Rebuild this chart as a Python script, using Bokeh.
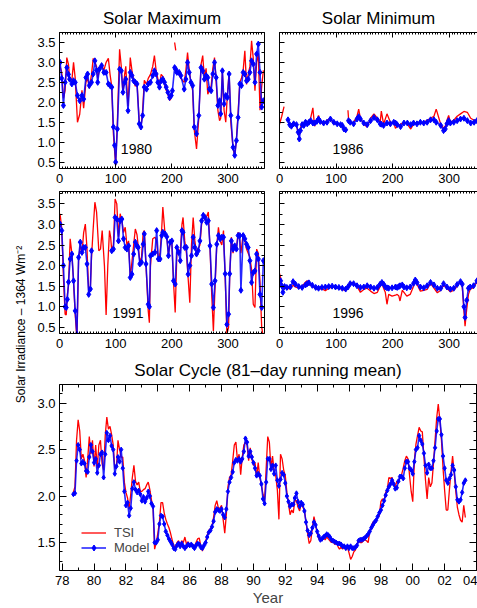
import math
import numpy as np
from bokeh.plotting import figure
from bokeh.layouts import column, row
from bokeh.models import (LinearAxis, FixedTicker, Range1d, Label, Legend,
                          LegendItem, NumeralTickFormatter)
from bokeh.embed import file_html
from bokeh.resources import INLINE

nan = float("nan")

# ---------------- data ----------------
days_1980 = [1,4,7,10,13,16,18,22,25,28,32,36,40,43,47,50,53,57,60,63,66,68,71,75,79,83,87,90,93,96,
             98,100,103,107,110,113,116,118,122,126,129,132,135,138,142,145,148,151,155,158,162,166,169,172,
             175,178,181,184,187,190,193,196,199,201,205,207,209,213,216,222,225,228,231,234,237,240,244,248,
             252,255,258,261,264,267,270,273,276,279,282,285,287,290,293,296,299,302,305,309,312,315,318,321,
             324,327,330,333,336,339,342,345,348,351,354,357,360,363]
model_1980 = [3.0,2.6,1.92,2.5,2.87,2.7,2.58,2.46,2.54,2.5,2.17,2.04,2.17,2.08,2.62,2.71,2.42,2.5,2.71,3.04,
              2.8,2.5,2.83,2.92,2.75,2.75,2.46,2.42,2.38,1.38,0.92,0.5,1.33,2.83,2.79,2.25,2.5,2.58,1.79,2.75,
              2.67,2.54,2.5,2.46,1.46,1.38,1.67,2.38,2.33,2.46,2.5,2.67,2.79,2.71,2.5,2.38,2.54,2.58,2.5,2.38,
              2.25,2.12,2.17,2.29,2.87,2.83,2.75,2.75,2.67,2.33,2.58,3.0,2.75,2.5,2.42,1.38,1.21,1.67,2.87,2.79,
              2.58,2.67,2.62,2.33,2.29,2.71,3.0,2.62,1.92,2.04,1.71,2.79,1.96,2.17,2.12,2.71,1.67,0.87,0.67,1.04,
              1.62,2.46,2.42,2.75,2.71,2.54,2.58,2.75,3.04,2.96,2.5,3.21,3.46,2.75,1.88,2.04]
tsi_1980 = [2.9,2.75,2.1,2.3,3.12,2.95,2.6,2.55,3.0,2.6,1.5,1.7,2.3,1.85,2.5,2.6,2.35,2.7,3.1,3.0,
            2.9,2.6,2.8,2.95,2.8,3.0,3.1,2.7,2.4,1.2,0.8,0.42,1.5,3.33,2.9,2.2,2.7,2.9,1.9,3.12,
            2.8,2.55,2.4,2.5,1.5,1.35,1.8,2.55,2.45,2.6,2.7,2.9,3.17,2.8,2.6,2.4,2.7,2.65,2.45,2.3,
            2.2,2.05,2.1,nan,3.5,3.3,nan,2.7,2.6,2.5,2.8,3.25,2.8,2.5,2.3,1.3,0.83,1.6,2.95,3.17,
            2.6,2.85,2.2,2.3,2.4,2.85,3.12,2.5,1.8,1.54,1.6,2.75,1.8,1.5,2.2,2.75,1.5,0.85,0.65,1.08,
            1.75,2.5,2.6,2.8,3.29,2.45,2.7,2.9,3.54,3.1,2.29,3.0,3.2,1.8,2.4,2.8]

days_1986 = [0,4,8,10,15,18,21,25,30,33,35,37,40,43,46,49,52,55,59,62,66,69,72,78,84,90,96,102,108,111,
             114,117,119,121,122,125,131,137,140,143,149,155,161,167,173,178,180,184,190,196,202,205,208,214,
             220,226,232,237,243,249,255,261,267,273,277,285,290,293,296,299,302,308,314,320,326,332,338,344,349]
model_1986 = [nan,nan,nan,nan,1.56,1.44,1.4,1.46,1.44,1.25,1.08,1.29,1.44,1.42,1.5,1.46,1.5,1.54,1.48,1.48,
              1.52,1.58,1.52,1.48,1.5,1.58,1.5,1.46,1.44,1.42,1.33,1.31,nan,nan,1.54,1.5,1.46,1.58,1.64,1.58,
              1.48,1.44,1.54,1.62,1.56,1.46,1.45,1.42,1.48,1.46,1.5,1.48,1.44,1.39,1.48,1.48,1.44,1.48,1.46,1.5,
              1.48,1.5,1.56,1.56,1.5,1.42,1.29,1.33,1.46,1.54,1.48,1.5,1.54,1.58,1.6,1.54,1.48,1.5,1.54]
tsi_1986 = [1.45,1.65,1.89,nan,nan,1.42,1.45,1.5,1.45,1.2,1.17,1.35,1.5,1.4,1.55,1.5,1.45,1.6,1.86,1.4,
            1.55,1.67,1.5,1.45,1.55,1.6,1.45,1.48,1.42,1.4,1.38,nan,nan,1.8,1.6,1.48,1.5,1.65,1.83,1.6,
            1.45,1.38,1.6,1.71,1.6,1.5,1.78,1.45,1.71,1.5,1.48,1.35,1.4,1.45,1.5,1.45,1.33,1.45,1.5,1.48,
            1.5,1.55,1.6,1.65,1.83,1.45,1.35,1.4,1.55,1.67,1.5,1.55,1.65,1.71,1.77,1.75,1.6,1.55,1.55]

days_1991 = [1,4,7,10,12,14,16,19,22,25,28,31,34,37,40,43,46,49,52,55,57,60,63,66,70,73,76,80,83,86,
             89,91,93,96,99,102,105,108,111,114,117,120,123,126,129,132,135,138,140,143,146,149,151,154,158,160,
             162,166,170,173,176,179,182,184,188,191,194,197,200,203,206,209,212,215,218,220,223,226,229,232,
             235,238,241,244,247,250,253,256,259,262,265,268,271,274,277,280,283,286,289,292,295,298,301,303,
             306,309,312,315,318,321,323,327,330,333,336,339,342,345,348,351,354,357,360,363]
model_1991 = [3.01,2.85,2.0,1.0,0.98,1.18,1.6,2.16,2.28,1.63,0.9,0.33,2.2,2.57,2.32,2.44,2.44,2.04,1.3,1.43,
              2.36,nan,nan,nan,nan,nan,nan,nan,nan,nan,nan,nan,2.36,2.4,3.17,3.13,2.6,3.09,3.13,2.65,
              2.44,2.4,2.48,1.71,1.79,2.28,2.57,2.48,2.44,2.04,2.08,2.52,2.77,2.04,1.06,1.0,2.24,2.28,2.32,2.85,
              2.16,2.16,2.73,2.81,2.77,2.7,2.24,2.57,2.6,1.63,1.55,2.44,2.32,2.12,2.85,2.81,2.44,2.44,1.79,2.0,
              2.24,2.69,2.44,2.28,2.36,2.6,3.09,3.22,3.17,3.05,3.09,2.48,1.55,0.98,1.63,2.52,2.73,2.65,2.69,2.69,
              1.8,0.57,0.82,1.8,2.6,2.4,2.48,2.4,2.73,2.73,1.4,2.73,2.65,2.52,2.44,2.12,1.59,1.83,1.87,2.28,
              2.16,1.3,0.98,2.12]
tsi_1991 = [3.26,2.9,1.7,0.82,0.8,1.3,1.5,2.65,2.3,1.6,0.8,0.2,2.15,2.5,2.3,2.8,3.01,2.4,1.35,1.5,
            2.2,2.9,3.54,3.3,2.36,2.4,2.85,2.0,0.8,2.0,2.85,2.7,2.36,2.5,3.62,3.5,2.7,3.26,3.1,2.8,
            2.93,2.5,2.6,1.7,2.1,2.5,2.89,2.75,2.5,2.1,2.2,2.8,2.85,2.0,0.9,0.61,2.0,2.65,2.69,2.6,
            2.1,2.3,2.9,3.42,2.75,2.7,2.25,2.6,2.55,1.6,0.86,2.3,2.4,2.3,3.0,3.17,2.6,2.3,1.7,1.1,
            2.5,3.17,2.6,2.3,2.4,2.5,3.0,3.26,3.1,3.2,3.3,2.4,1.3,0.41,1.5,2.5,2.93,2.6,2.5,2.85,
            1.7,0.33,0.5,1.7,2.69,2.3,2.5,2.4,2.81,2.6,2.3,2.77,2.6,2.4,2.3,2.2,1.9,1.06,0.98,2.4,
            2.3,1.6,0.5,0.25]

days_1996 = [0,2,4,6,9,13,19,24,28,34,40,46,49,52,58,64,69,75,81,87,93,99,105,111,117,121,125,131,137,143,
             149,155,161,167,173,178,181,184,187,190,193,199,205,208,211,213,217,220,225,231,237,240,243,249,
             255,261,267,273,279,285,290,296,302,308,314,320,323,326,328,331,334,337,343,349]
model_1996 = [nan,1.63,1.51,1.35,1.49,1.47,1.48,1.61,1.55,1.49,1.47,1.53,1.56,1.58,1.52,1.47,1.45,1.47,1.48,1.49,
              1.5,1.48,1.47,1.45,1.43,1.48,1.56,1.56,1.51,1.47,1.48,1.51,1.48,1.45,1.47,1.55,1.59,1.55,1.48,1.46,
              1.45,1.46,1.48,1.47,1.49,1.51,1.53,1.48,1.46,1.48,1.57,1.65,1.59,1.48,1.46,1.51,1.59,1.53,1.45,1.45,
              1.56,1.48,1.43,1.45,1.54,1.61,1.55,1.0,0.74,1.16,1.45,1.48,1.51,1.63]
tsi_1996 = [1.81,1.7,1.55,1.45,1.47,1.43,1.45,1.52,1.48,1.45,1.5,1.6,1.63,1.55,1.5,1.44,1.42,1.44,1.39,1.45,
            1.47,1.47,1.45,1.42,1.39,1.5,1.59,1.58,1.5,1.35,1.42,1.45,1.38,1.32,1.35,1.5,1.57,1.45,1.35,1.06,
            1.3,1.26,1.28,1.3,1.26,1.14,1.4,1.35,1.26,1.3,1.5,1.63,1.55,1.38,1.4,1.42,1.57,1.45,1.34,1.4,
            1.52,1.45,1.36,1.4,1.5,1.63,1.5,0.9,0.53,0.95,1.3,1.42,1.47,1.6]

cycle_years = [
    1978.7,1978.8,1978.9,1979.0,1979.1,1979.2,1979.3,1979.4,1979.5,1979.6,
    1979.7,1979.8,1979.9,1980.0,1980.1,1980.2,1980.3,1980.4,1980.5,1980.6,
    1980.7,1980.8,1980.9,1981.0,1981.1,1981.2,1981.3,1981.4,1981.5,1981.6,
    1981.7,1981.8,1981.9,1982.0,1982.1,1982.2,1982.3,1982.4,1982.5,1982.6,
    1982.7,1982.8,1982.9,1983.0,1983.1,1983.2,1983.3,1983.4,1983.5,1983.6,
    1983.7,1983.8,1983.9,1984.0,1984.1,1984.2,1984.3,1984.4,1984.5,1984.6,
    1984.7,1984.8,1984.9,1985.0,1985.1,1985.2,1985.3,1985.4,1985.5,1985.6,
    1985.7,1985.8,1985.9,1986.0,1986.1,1986.2,1986.3,1986.4,1986.5,1986.6,
    1986.7,1986.8,1986.9,1987.0,1987.1,1987.2,1987.3,1987.4,1987.5,1987.6,
    1987.7,1987.8,1987.9,1988.0,1988.1,1988.2,1988.3,1988.4,1988.5,1988.6,
    1988.7,1988.8,1988.9,1989.0,1989.1,1989.2,1989.3,1989.4,1989.5,1989.6,
    1989.7,1989.8,1989.9,1990.0,1990.1,1990.2,1990.3,1990.4,1990.5,1990.6,
    1990.7,1990.8,1990.9,1991.0,1991.1,1991.2,1991.3,1991.4,1991.5,1991.6,
    1991.7,1991.8,1991.9,1992.0,1992.1,1992.2,1992.3,1992.4,1992.5,1992.6,
    1992.7,1992.8,1992.9,1993.0,1993.1,1993.2,1993.3,1993.4,1993.5,1993.6,
    1993.7,1993.8,1993.9,1994.0,1994.1,1994.2,1994.3,1994.4,1994.5,1994.6,
    1994.7,1994.8,1994.9,1995.0,1995.1,1995.2,1995.3,1995.4,1995.5,1995.6,
    1995.7,1995.8,1995.9,1996.0,1996.1,1996.2,1996.3,1996.4,1996.5,1996.6,
    1996.7,1996.8,1996.9,1997.0,1997.1,1997.2,1997.3,1997.4,1997.5,1997.6,
    1997.7,1997.8,1997.9,1998.0,1998.1,1998.2,1998.3,1998.4,1998.5,1998.6,
    1998.7,1998.8,1998.9,1999.0,1999.1,1999.2,1999.3,1999.4,1999.5,1999.6,
    1999.7,1999.8,1999.9,2000.0,2000.1,2000.2,2000.3,2000.4,2000.5,2000.6,
    2000.7,2000.8,2000.9,2001.0,2001.1,2001.2,2001.3,2001.4,2001.5,2001.6,
    2001.7,2001.8,2001.9,2002.0,2002.1,2002.2,2002.3,2002.4,2002.5,2002.6,
    2002.7,2002.8,2002.9,2003.0,2003.1,2003.2,2003.3]
cycle_model = [
    2.02,2.03,2.38,2.55,2.5,2.35,2.37,2.35,2.27,2.26,
    2.42,2.55,2.48,2.36,2.4,2.25,2.33,2.45,2.47,2.2,
    2.45,2.68,2.6,2.65,2.54,2.5,2.24,2.32,2.42,2.37,
    2.5,2.3,2.05,1.9,1.93,1.79,1.87,2.08,2.15,2.07,
    2.04,2.06,2.02,1.95,1.99,1.94,1.98,2.05,2.0,1.92,
    1.89,1.5,1.5,1.53,1.7,1.79,1.78,1.7,1.62,1.58,
    1.54,1.51,1.48,1.44,1.43,1.47,1.49,1.46,1.49,1.46,
    1.44,1.46,1.48,1.47,1.48,1.46,1.44,1.47,1.49,1.48,
    1.45,1.44,1.47,1.5,1.56,1.61,1.63,1.67,1.73,1.83,
    1.86,1.85,1.84,1.86,1.8,1.77,1.86,2.05,2.15,2.2,
    2.26,2.36,2.39,2.38,2.4,2.37,2.4,2.48,2.62,2.58,
    2.43,2.48,2.42,2.36,2.3,2.22,2.24,2.22,2.13,1.97,
    1.92,2.15,2.4,2.4,2.29,2.33,2.24,2.33,2.17,2.11,
    2.18,2.25,2.23,2.14,2.0,1.94,1.89,1.91,1.91,1.98,
    2.03,1.94,1.89,1.93,1.91,1.84,1.72,1.63,1.58,1.6,
    1.66,1.72,1.69,1.62,1.57,1.53,1.54,1.56,1.57,1.59,
    1.58,1.56,1.53,1.52,1.51,1.5,1.49,1.49,1.48,1.46,
    1.46,1.44,1.46,1.44,1.46,1.44,1.44,1.45,1.47,1.52,
    1.53,1.53,1.54,1.55,1.57,1.59,1.62,1.66,1.69,1.72,
    1.74,1.78,1.82,1.85,1.9,1.95,2.01,2.06,2.1,2.13,
    2.17,2.13,2.08,2.09,2.16,2.21,2.21,2.19,2.3,2.37,
    2.37,2.3,2.28,2.24,2.37,2.5,2.52,2.65,2.6,2.56,
    2.46,2.33,2.25,2.34,2.3,2.3,2.38,2.52,2.7,2.83,
    2.83,2.66,2.43,2.3,2.17,2.14,2.19,2.23,2.33,2.28,
    2.1,1.96,1.94,1.96,2.04,2.14,2.17]
cycle_tsi = [
    2.04,2.1,2.6,2.82,2.7,2.4,2.45,2.38,2.2,2.4,
    2.64,2.45,2.6,2.32,2.55,2.3,2.55,2.6,2.35,2.28,
    2.65,2.85,2.72,2.75,2.66,2.55,2.3,2.3,2.6,2.5,
    2.42,2.42,2.15,2.04,1.98,1.86,2.02,2.2,2.33,2.16,
    2.12,2.15,2.05,2.05,2.07,2.08,2.12,2.15,2.07,1.96,
    1.88,1.43,1.5,1.6,1.72,1.93,1.93,1.82,1.75,1.7,
    1.66,1.6,1.53,1.47,1.45,1.5,1.52,1.46,1.52,1.5,
    1.56,1.48,1.51,1.46,1.48,1.47,1.46,1.5,1.54,1.55,
    1.46,1.41,1.47,1.51,1.58,1.63,1.65,1.68,1.77,1.9,
    1.95,1.87,1.87,1.9,1.75,1.6,1.8,2.1,2.2,2.23,
    2.38,2.55,2.58,2.38,2.45,2.23,2.42,2.55,2.58,2.55,
    2.38,2.52,2.4,2.33,2.36,2.2,2.36,2.2,2.12,2.02,
    1.95,2.3,2.64,2.58,2.3,2.43,2.26,2.22,2.07,1.75,
    2.45,2.4,2.28,2.22,2.04,1.92,1.8,1.85,1.82,1.95,
    1.95,1.88,1.84,1.92,1.88,1.85,1.72,1.6,1.49,1.52,
    1.66,1.78,1.7,1.6,1.54,1.52,1.54,1.55,1.53,1.56,
    1.54,1.52,1.5,1.52,1.48,1.5,1.46,1.43,1.45,1.43,
    1.46,1.43,1.45,1.39,1.32,1.35,1.4,1.42,1.48,1.53,
    1.5,1.5,1.52,1.53,1.52,1.5,1.62,1.68,1.72,1.73,
    1.73,1.78,1.79,1.94,1.97,1.95,2.04,2.07,2.2,2.19,
    2.2,2.14,2.1,2.16,2.14,2.2,2.23,2.3,2.38,2.43,
    2.4,2.22,2.05,1.94,2.38,2.56,2.65,2.74,2.7,2.69,
    2.42,2.17,1.97,2.2,2.1,2.14,2.35,2.6,2.84,2.99,
    2.82,2.6,2.3,2.06,1.85,1.85,2.07,2.26,2.43,2.25,
    2.05,1.88,1.8,1.74,1.72,1.9,1.77]

year_ticks = [1978,1980,1982,1984,1986,1988,1990,1992,1994,1996,1998,2000,2002,2004]
year_labels = ["78","80","82","84","86","88","90","92","94","96","98","00","02","04"]
day_ticks = [0, 100, 200, 300]
irr_ticks = [0.5, 1.0, 1.5, 2.0, 2.5, 3.0, 3.5]
cycle_irr_ticks = [1.5, 2.0, 2.5, 3.0]

# ---------------- styling helpers ----------------
FONT = "Liberation Sans"
RED = "#ff0000"
BLUE = "#0000ff"


def style_axis(ax, labels=True, maj=5, mnr=3, size="13px", standoff=4):
    ax.major_tick_in = maj
    ax.major_tick_out = 0
    ax.minor_tick_in = mnr
    ax.minor_tick_out = 0
    ax.axis_line_color = "black"
    ax.major_tick_line_color = "black"
    ax.minor_tick_line_color = "black"
    if labels:
        ax.major_label_text_font = FONT
        ax.major_label_text_font_size = size
        ax.major_label_text_color = "black"
        ax.major_label_standoff = standoff
    else:
        # tick marks only: labels are not painted at all
        ax.major_label_text_color = None
        ax.major_label_text_alpha = 0
        ax.major_label_text_font_size = "1px"
        ax.major_label_standoff = 0


def new_fig(width, height, mbl, mbr, mbt, mbb, xr, yr, title=None):
    p = figure(width=width, height=height, x_range=Range1d(*xr), y_range=Range1d(*yr),
               toolbar_location=None, output_backend="svg",
               min_border_left=mbl, min_border_right=mbr,
               min_border_top=mbt, min_border_bottom=mbb,
               outline_line_color=None, background_fill_color="white",
               border_fill_color="white", title=title)
    p.grid.visible = False
    if title:
        p.title.text_font = FONT
        p.title.text_font_size = "17px"
        p.title.text_font_style = "normal"
        p.title.align = "center"
        p.title.text_color = "black"
    return p


def small_panel(width, height, mbl, mbr, mbt, mbb, xr, yr, days, tsi, model, year_txt,
                label_x, title=None, ylabels=True, right=True):
    p = new_fig(width, height, mbl, mbr, mbt, mbb, xr, yr, title)
    xt = FixedTicker(ticks=day_ticks, minor_ticks=list(range(0, 366, 5)))
    yt = FixedTicker(ticks=irr_ticks, minor_ticks=[0.25 * i for i in range(1, 16)])
    p.xaxis[0].ticker = xt
    p.yaxis[0].ticker = yt
    p.yaxis[0].formatter = NumeralTickFormatter(format="0.0")
    style_axis(p.xaxis[0], True, 5, 2, standoff=5)
    style_axis(p.yaxis[0], ylabels, 5, 3, standoff=4)
    top = LinearAxis(ticker=xt)
    style_axis(top, False, 5, 2)
    p.add_layout(top, "above")
    if right:
        rgt = LinearAxis(ticker=yt)
        style_axis(rgt, False, 5, 3)
        p.add_layout(rgt, "right")
    d = np.array(days, dtype=float)
    p.line(d, np.array(tsi, dtype=float), color=RED, line_width=1.3)
    p.line(d, np.array(model, dtype=float), color=BLUE, line_width=1.6, line_alpha=0.85)
    p.scatter(d, np.array(model, dtype=float), marker="diamond", size=6, color=BLUE)
    p.add_layout(Label(x=label_x, y=0.84, text=year_txt, text_align="center",
                       text_baseline="middle", text_font=FONT, text_font_size="14px",
                       text_color="black"))
    return p


YR = (0.34, 3.75)
YR2 = (0.35, 3.8)

pA = small_panel(240, 191, 29, 6, 32, 23, (0, 365), YR, days_1980, tsi_1980, model_1980,
                 "1980", 137, title="Solar Maximum")
pB = small_panel(207, 191, 9, 0, 32, 23, (0, 350), YR, days_1986, tsi_1986, model_1986,
                 "1986", 121, title="Solar Minimum", ylabels=False, right=False)
pC = small_panel(240, 162, 29, 6, 0, 20, (0, 365), YR2, days_1991, tsi_1991, model_1991,
                 "1991", 122)
pD = small_panel(207, 162, 9, 0, 0, 20, (0, 350), YR2, days_1996, tsi_1996, model_1996,
                 "1996", 121, ylabels=False, right=False)

# bottom panel
pE = new_fig(447, 255, 29, 1, 25, 35, (1977.83, 2004.0), (1.2, 3.2),
             title="Solar Cycle (81\u2013day running mean)")
xt = FixedTicker(ticks=year_ticks, minor_ticks=list(range(1977, 2005)))
yt = FixedTicker(ticks=cycle_irr_ticks, minor_ticks=[1.2 + 0.1 * i for i in range(21)])
pE.xaxis[0].ticker = xt
pE.xaxis[0].major_label_overrides = dict(zip(year_ticks, year_labels))
pE.yaxis[0].ticker = yt
pE.yaxis[0].formatter = NumeralTickFormatter(format="0.0")
style_axis(pE.xaxis[0], True, 7, 3, standoff=5)
style_axis(pE.yaxis[0], True, 7, 3, standoff=4)
pE.xaxis[0].axis_label = "Year"
pE.xaxis[0].axis_label_text_font = FONT
pE.xaxis[0].axis_label_text_font_size = "15px"
pE.xaxis[0].axis_label_text_font_style = "normal"
pE.xaxis[0].axis_label_standoff = 1
for side, tk in (("above", xt), ("right", yt)):
    ax = LinearAxis(ticker=tk)
    style_axis(ax, False, 7, 3)
    pE.add_layout(ax, side)

cy = np.array(cycle_years, dtype=float)
r_tsi = pE.line(cy, np.array(cycle_tsi, dtype=float), color=RED, line_width=1.3)
r_mod = pE.line(cy, np.array(cycle_model, dtype=float), color=BLUE, line_width=1.6, line_alpha=0.85)
r_pts = pE.scatter(cy, np.array(cycle_model, dtype=float), marker="diamond", size=5, color=BLUE)

legend = Legend(items=[LegendItem(label="TSI", renderers=[r_tsi]),
                       LegendItem(label="Model", renderers=[r_mod, r_pts])],
                location=(22, 15), glyph_width=25, glyph_height=15, label_height=15,
                label_standoff=8, spacing=0, padding=0, margin=0,
                border_line_color=None, background_fill_alpha=0,
                label_text_font=FONT, label_text_font_size="13px")
pE.add_layout(legend)

# y-axis label strip
lab = figure(width=30, height=608, x_range=Range1d(0, 30), y_range=Range1d(0, 608),
             toolbar_location=None, output_backend="svg", min_border=0,
             x_axis_type=None, y_axis_type=None, outline_line_color=None)
lab.add_layout(Label(x=20, y=284, text="Solar Irradiance \u2013 1364 Wm\u207b\u00b2",
                     angle=math.pi / 2, text_align="center", text_baseline="middle",
                     text_font=FONT, text_font_size="12px", text_color="black"))

layout = row(lab, column(row(pA, pB), row(pC, pD), pE))

open("out.html", "w").write(file_html(layout, INLINE))
